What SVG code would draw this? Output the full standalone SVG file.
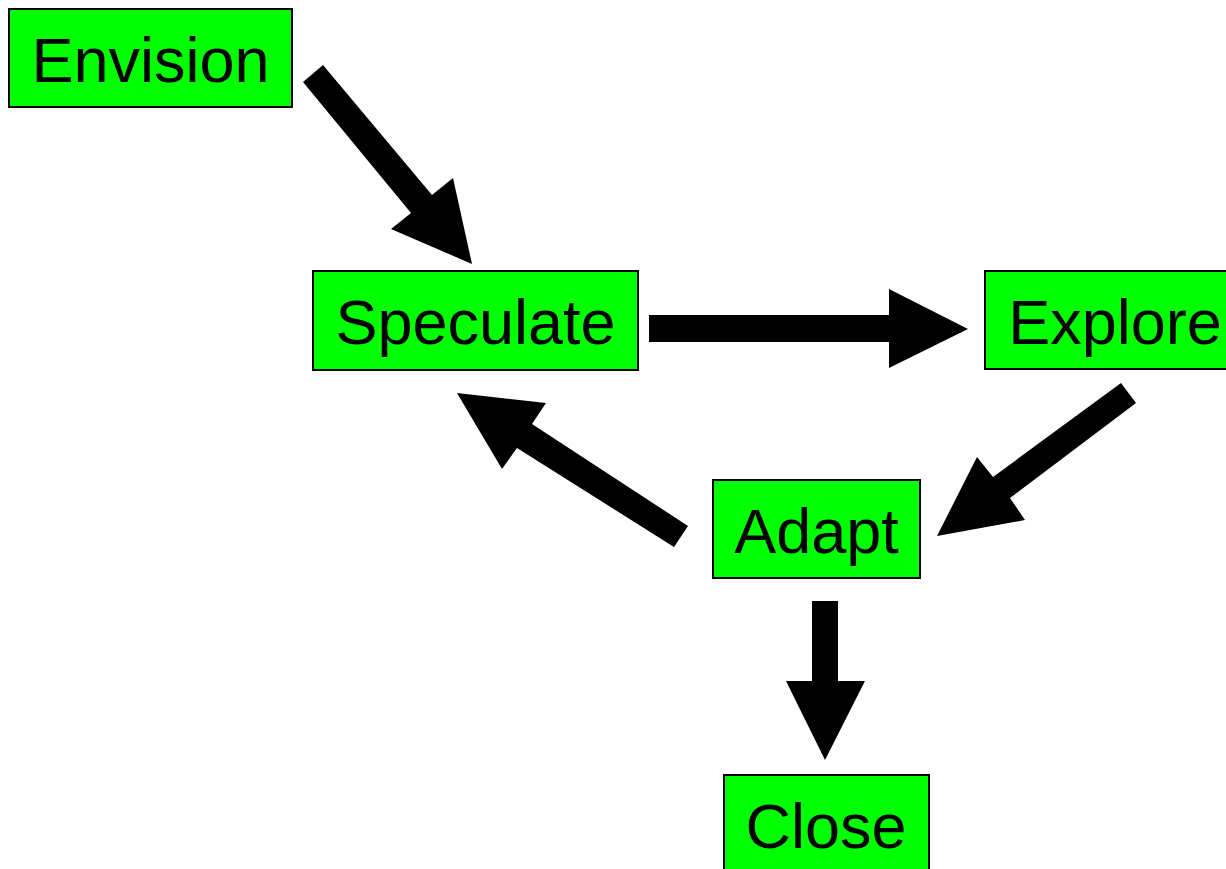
<svg xmlns="http://www.w3.org/2000/svg" width="1226" height="869" viewBox="0 0 1226 869">
<style>
.box{fill:#00ff00;stroke:#000;stroke-width:2}
.lbl{font-family:"Liberation Sans",Arial,sans-serif;font-size:63px;fill:#000;text-anchor:middle}
.arr{fill:#000;stroke:none}
</style>
<rect width="1226" height="869" fill="#fff"/>
<g id="connectors">
<polygon class="arr" points="303,82 323,65 432,195 453,178 472,264 391,229 411,213"/>
<polygon class="arr" points="649,315 889,315 889,289 968,329 889,368 889,342 649,342"/>
<polygon class="arr" points="457,393 546,403 532,424 688,526 674,547 517,448 502,469"/>
<polygon class="arr" points="1121,383 1136,403 1010,498 1025,520 937,536 977,457 993,477"/>
<polygon class="arr" points="812,601 838,601 838,681 865,681 825,760 786,681 812,681"/>
</g>
<g id="envision"><rect class="box" x="9" y="9" width="283" height="98"/><text class="lbl" x="150.5" y="82">Envision</text></g>
<g id="speculate"><rect class="box" x="313" y="271" width="325" height="99"/><text class="lbl" x="475.5" y="344">Speculate</text></g>
<g id="explore"><rect class="box" x="985" y="271" width="264" height="98"/><text class="lbl" x="1115" y="344">Explore</text></g>
<g id="adapt"><rect class="box" x="713" y="480" width="207" height="98"/><text class="lbl" x="816.5" y="553">Adapt</text></g>
<g id="close"><rect class="box" x="724" y="775" width="205" height="98"/><text class="lbl" x="826" y="848">Close</text></g>
</svg>
